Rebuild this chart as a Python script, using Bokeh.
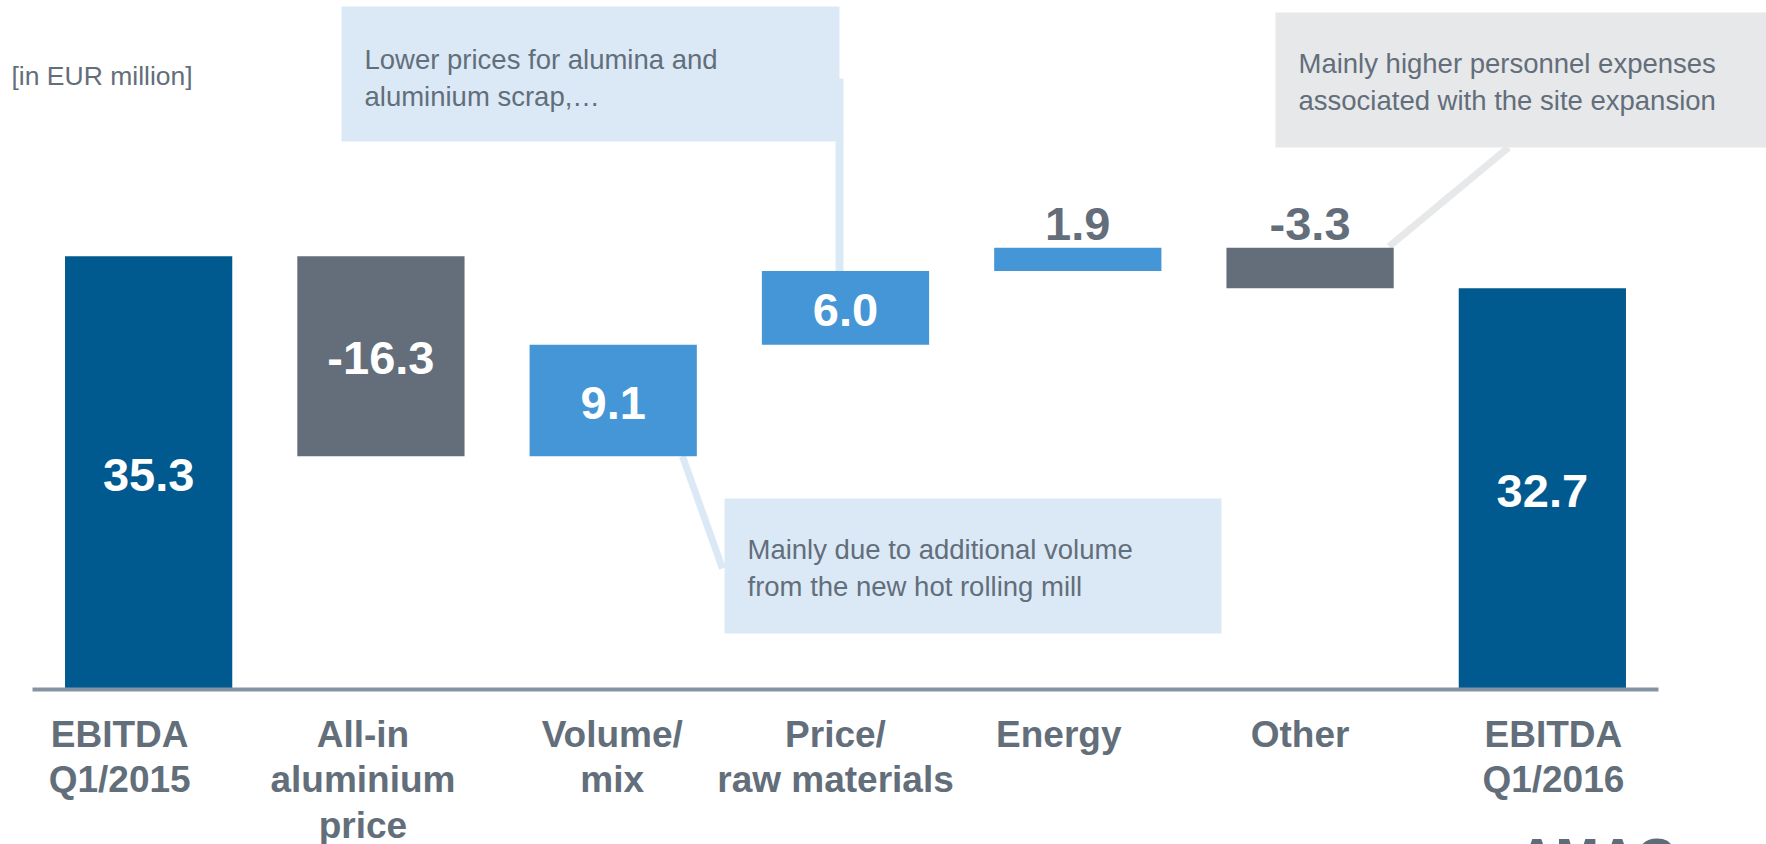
from bokeh.plotting import figure
from bokeh.models import Range1d, ColumnDataSource
from bokeh.core.properties import value
from bokeh.embed import file_html
from bokeh.resources import INLINE

# ---------------- data ----------------
categories = ["EBITDA\nQ1/2015", "All-in\naluminium\nprice", "Volume/\nmix",
              "Price/\nraw materials", "Energy", "Other", "EBITDA\nQ1/2016"]
values = [35.3, -16.3, 9.1, 6.0, 1.9, -3.3, 32.7]
kinds = ["total", "delta", "delta", "delta", "delta", "delta", "total"]
unit_label = "[in EUR million]"
note_raw = "Lower prices for alumina and\naluminium scrap,\u2026"
note_volume = "Mainly due to additional volume\nfrom the new hot rolling mill"
note_other = "Mainly higher personnel expenses\nassociated with the site expansion"

# ---------------- styling ----------------
W, H = 1766, 844
XS = 1626 / 7.0        # px per category
X0PX = 32              # px of x = 0
YS = 12.27             # px per EUR million
Y0PX = 689             # px of y = 0
label_shift_px = [-29, -18, -1, -10, -19, -10, 11]   # category-label nudges (styling)

def dx(px):
    return (px - X0PX) / XS

def dy(py):
    return (Y0PX - py) / YS

DARK = "#005a8f"
GREY = "#646e7a"
LIGHT = "#4596d6"
TXT = "#636e7b"
NOTE_BLUE = "#dbe9f6"
NOTE_GREY = "#e7e8ea"
AXIS = "#8594a3"
FONT = value("Liberation Sans")

# ---------------- waterfall geometry from data ----------------
xs, bottoms, tops, colors = [], [], [], []
running = 0.0
for i, (v, k) in enumerate(zip(values, kinds)):
    xs.append(i + 0.5)
    if k == "total":
        bottoms.append(0.0)
        tops.append(v)
        colors.append(DARK)
        running = v
    else:
        b = running
        running = running + v
        bottoms.append(min(b, running))
        tops.append(max(b, running))
        colors.append(LIGHT if v > 0 else GREY)

labels = [f"{v:.1f}" for v in values]

p = figure(width=W, height=H, x_range=Range1d(dx(0), dx(W)), y_range=Range1d(dy(H), dy(0)),
           output_backend="svg", toolbar_location=None, x_axis_location=None,
           y_axis_location=None, min_border=0, outline_line_color=None)
p.xgrid.visible = False
p.ygrid.visible = False
p.background_fill_color = "white"
p.border_fill_color = "white"

# ---------------- callouts (drawn below bars) ----------------
p.segment(x0=[dx(839)], y0=[dy(78)], x1=[dx(839)], y1=[tops[3]],
          line_color=NOTE_BLUE, line_width=8)
p.segment(x0=[dx(682)], y0=[bottoms[2]], x1=[dx(722)], y1=[dy(568)],
          line_color=NOTE_BLUE, line_width=7)
p.segment(x0=[xs[5] + 0.34], y0=[tops[5] + 0.1], x1=[dx(1508)], y1=[dy(147)],
          line_color=NOTE_GREY, line_width=7)
p.quad(left=[dx(341)], right=[dx(839)], top=[dy(6)], bottom=[dy(141)],
       fill_color=NOTE_BLUE, line_color=None)
p.quad(left=[dx(724)], right=[dx(1221)], top=[dy(498)], bottom=[dy(633)],
       fill_color=NOTE_BLUE, line_color=None)
p.quad(left=[dx(1275)], right=[dx(1780)], top=[dy(12)], bottom=[dy(147)],
       fill_color=NOTE_GREY, line_color=None)

note_kw = dict(text_font=FONT, text_font_size="27.5px", text_color=TXT,
               text_align="left", text_baseline="top", text_line_height=1.2)
p.text(x=[dx(364)], y=[dy(43)], text=[note_raw], **note_kw)
p.text(x=[dx(747)], y=[dy(533)], text=[note_volume], **note_kw)
p.text(x=[dx(1298)], y=[dy(47)], text=[note_other], **note_kw)

# ---------------- bars ----------------
src = ColumnDataSource(dict(x=xs, bottom=bottoms, top=tops, color=colors))
p.vbar(x="x", width=0.72, bottom="bottom", top="top", fill_color="color",
       line_color=None, source=src)

p.segment(x0=[0], y0=[0], x1=[len(categories)], y1=[0], line_color=AXIS, line_width=4)

# ---------------- value labels ----------------
in_x, in_y, in_t, out_x, out_y, out_t = [], [], [], [], [], []
for x, b, t, lab, v in zip(xs, bottoms, tops, labels, values):
    if abs(v) >= 5:
        in_x.append(x); in_y.append((b + t) / 2 - 2 / YS); in_t.append(lab)
    else:
        out_x.append(x); out_y.append(t + 24 / YS); out_t.append(lab)

p.text(x=in_x, y=in_y, text=in_t, text_font=FONT, text_font_size="47px",
       text_font_style="bold", text_color="white", text_align="center",
       text_baseline="middle")
p.text(x=out_x, y=out_y, text=out_t, text_font=FONT, text_font_size="47px",
       text_font_style="bold", text_color=GREY, text_align="center",
       text_baseline="middle")

# ---------------- category labels ----------------
cat_x = [x + s / XS for x, s in zip(xs, label_shift_px)]
p.text(x=cat_x, y=dy(713), text=categories, text_font=FONT, text_font_size="37px",
       text_font_style="bold", text_color=TXT, text_align="center",
       text_baseline="top", text_line_height=1.11)

p.text(x=[dx(11)], y=[dy(60)], text=[unit_label], text_font=FONT,
       text_font_size="26.5px", text_color=TXT, text_align="left", text_baseline="top")

# partial logo at the bottom edge
p.text(x=[dx(1597)], y=[dy(827)], text=["AMAG"], text_font=FONT,
       text_font_size="52px", text_font_style="bold", text_color="#5f6b78",
       text_align="center", text_baseline="top")

open("out.html", "w").write(file_html(p, INLINE))
